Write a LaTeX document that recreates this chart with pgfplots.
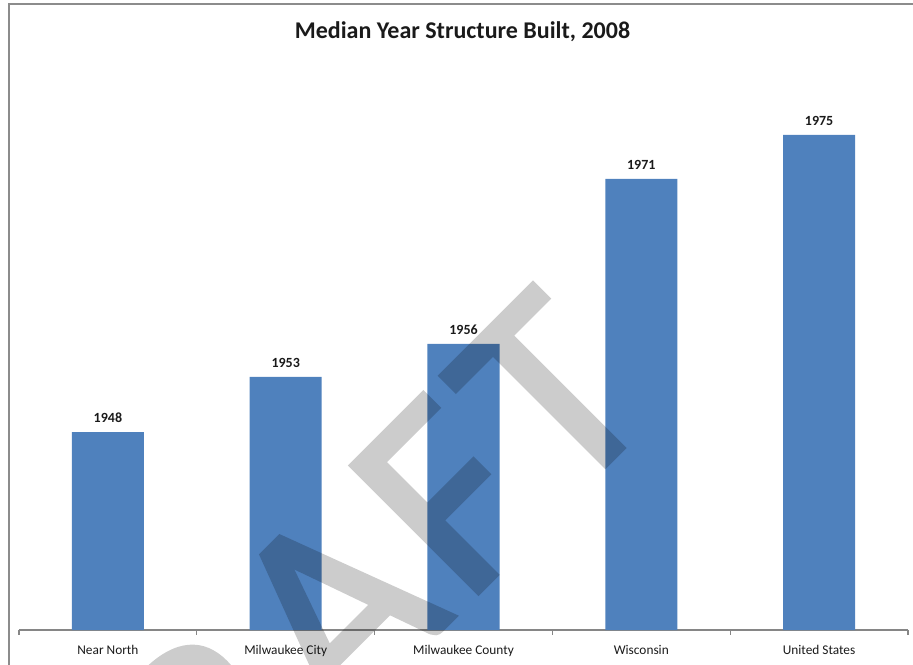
\documentclass[border=0pt]{standalone}
\usepackage{pgfplots}
\pgfplotsset{compat=1.18}
\usepackage{fontspec}
\setmainfont{Carlito}
\newfontfamily\wmfont[LetterSpace=5,FakeBold=1.8]{Carlito}
\definecolor{barblue}{HTML}{4F81BD}
\definecolor{axisgray}{HTML}{868686}
\definecolor{framegray}{HTML}{8C8C8C}
\definecolor{txt}{HTML}{1A1A1A}
\begin{document}
\begin{tikzpicture}[x=0.75pt,y=0.75pt]
\begin{axis}[
  at={(14.25pt,25.5pt)}, anchor=south west,
  scale only axis, width=666.75pt, height=412.5pt,
  xmin=-0.5, xmax=4.5, ymin=1930, ymax=1980,
  ybar, bar width=0.405,
  axis y line=none,
  axis x line=bottom,
  x axis line style={draw=axisgray, line width=0.8pt, -},
  xtick={0,1,2,3,4},
  xticklabels={Near North, Milwaukee City, Milwaukee County, Wisconsin, United States},
  major x tick style={draw=none},
  major tick length=0pt,
  minor xtick={-0.5,0.5,1.5,2.5,3.5,4.5},
  minor tick length=3.5pt,
  tick align=outside,
  minor x tick style={draw=axisgray, line width=0.8pt},
  ytick=\empty,
  xticklabel style={anchor=base, yshift=-18pt, font=\fontsize{10}{12}\selectfont, text=txt},
  nodes near coords={\pgfmathprintnumber[fixed,precision=0,1000 sep={},assume math mode=true]{\pgfplotspointmeta}},
  every node near coord/.append style={anchor=base, yshift=7pt, font=\bfseries\fontsize{10.5}{12}\selectfont, text=txt},
]
\addplot[fill=barblue, draw=none] coordinates {(0,1948) (1,1953) (2,1956) (3,1971) (4,1975)};
\end{axis}
% outer chart frame (only top and left edges visible)
\draw[framegray, line width=0.9pt] (9,-20) -- (9,660) -- (940,660);
% title
\node[anchor=base, font=\bfseries\fontsize{18}{21}\selectfont, text=txt] at (462.5,625) {Median Year Structure Built, 2008};
% watermark
\begin{scope}[transparency group, opacity=0.2]
\node[rotate=45, anchor=base, inner sep=0pt, text=black, font=\wmfont\fontsize{210}{210}\selectfont] at (377,-30) {DRAFT};
\end{scope}
\pgfresetboundingbox
\path[use as bounding box] (0,0) rectangle (913,664);
\end{tikzpicture}
\end{document}
